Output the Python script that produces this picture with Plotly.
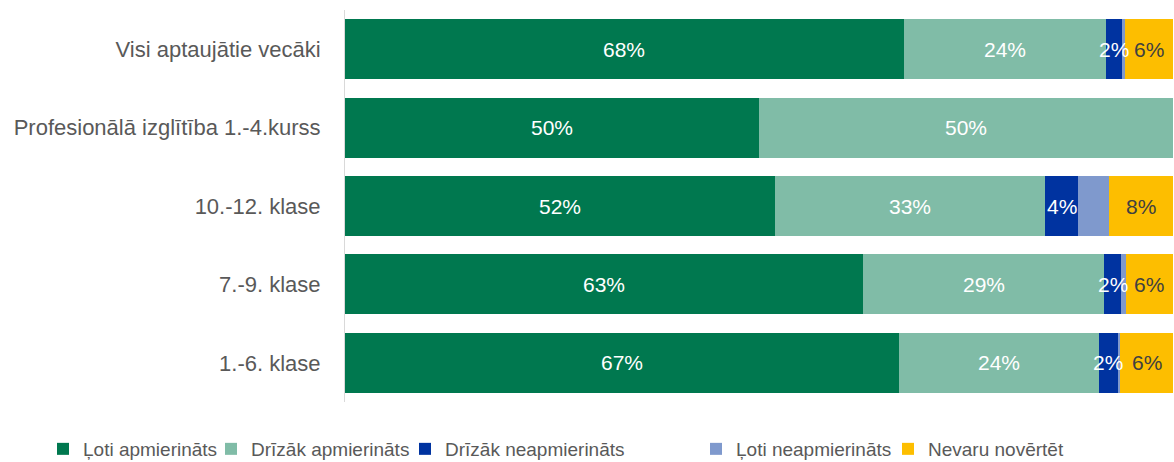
import plotly.graph_objects as go

categories = ["Visi aptaujātie vecāki", "Profesionālā izglītība 1.-4.kurss",
              "10.-12. klase", "7.-9. klase", "1.-6. klase"]
series_names = ["Ļoti apmierināts", "Drīzāk apmierināts", "Drīzāk neapmierināts",
                "Ļoti neapmierināts", "Nevaru novērtēt"]
loti_apm = [67.5, 50.0, 51.9, 62.6, 66.9]
drizak_apm = [24.4, 50.0, 32.7, 29.1, 24.2]
drizak_neapm = [1.9, 0.0, 3.9, 2.0, 2.2]
loti_neapm = [0.4, 0.0, 3.8, 0.6, 0.3]
nevaru = [5.8, 0.0, 7.7, 5.7, 6.4]

colors = ["#00784F", "#80BCA7", "#0033A0", "#7F99CD", "#FDBE00"]
text_colors = ["white", "white", "white", None, "#404040"]
FONT = "Liberation Sans, Arial"

W, H = 1174, 462
legend_marker_px = [58, 226, 420, 711, 903]  # legend marker left edges (page px)

fig = go.Figure()
all_series = [loti_apm, drizak_apm, drizak_neapm, loti_neapm, nevaru]
for k, (name, vals, col) in enumerate(zip(series_names, all_series, colors)):
    fig.add_trace(go.Bar(
        y=categories, x=vals, name=name, orientation="h",
        marker=dict(color=col, line=dict(width=0)),
        hoverinfo="x+name",
        legend="legend" if k == 0 else f"legend{k + 1}",
    ))

cum = [0.0] * len(categories)
for vals, tc in zip(all_series, text_colors):
    for i, v in enumerate(vals):
        if tc and v > 0:
            fig.add_annotation(x=cum[i] + v / 2, y=categories[i], xref="x", yref="y",
                               text=f"{round(v)}%", showarrow=False,
                               font=dict(color=tc, size=21, family=FONT))
        cum[i] += v

legend_common = dict(orientation="h", xanchor="left", xref="container",
                     y=(H - 449) / H, yanchor="middle", yref="container",
                     font=dict(size=19, color="#595959", family=FONT),
                     bgcolor="rgba(0,0,0,0)", borderwidth=0)
layout_legends = {}
for k, px in enumerate(legend_marker_px):
    key = "legend" if k == 0 else f"legend{k + 1}"
    layout_legends[key] = dict(legend_common, x=(px - 15) / W)

fig.update_layout(
    barmode="stack", bargap=0.236,
    width=W, height=H, autosize=False,
    margin=dict(l=345, r=1, t=10, b=59.5),
    plot_bgcolor="white", paper_bgcolor="white",
    font=dict(family=FONT, color="#595959", size=21),
    showlegend=True,
    **layout_legends,
)
fig.update_xaxes(range=[0, 100], showticklabels=False, showgrid=False, zeroline=False,
                 showline=False, fixedrange=True)
fig.update_yaxes(categoryorder="array", categoryarray=categories[::-1],
                 showline=True, linecolor="#D9D9D9", linewidth=1,
                 ticks="", ticklabelstandoff=19, tickfont=dict(size=22, color="#595959"),
                 showgrid=False)

fig.write_html("out.html", config={"responsive": False, "displayModeBar": False},
               post_script="document.body.style.margin='0';document.body.style.overflow='hidden';")
